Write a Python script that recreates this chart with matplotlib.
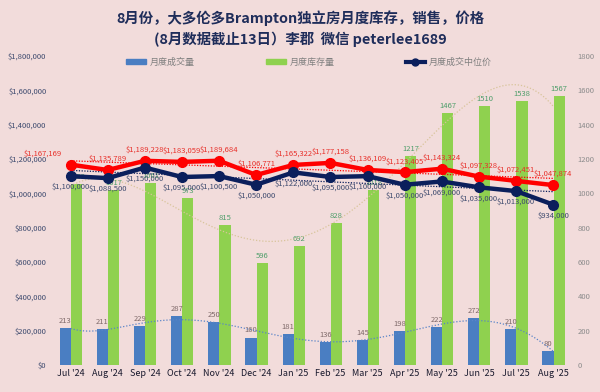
import numpy as np
import matplotlib
matplotlib.use("Agg")
import matplotlib.pyplot as plt
from matplotlib.patches import Patch
from matplotlib.lines import Line2D

plt.rcParams['font.family'] = ['Noto Sans CJK SC', 'DejaVu Sans']

months = ["Jul '24", "Aug '24", "Sep '24", "Oct '24", "Nov '24", "Dec '24", "Jan '25",
          "Feb '25", "Mar '25", "Apr '25", "May '25", "Jun '25", "Jul '25", "Aug '25"]
sales = [213, 211, 229, 287, 250, 160, 181, 136, 145, 198, 222, 272, 210, 80]
inventory = [1053, 1017, 1061, 973, 815, 596, 692, 828, 1018, 1217, 1467, 1510, 1538, 1567]
median_price = [1100000, 1088500, 1150000, 1095000, 1100500, 1050000, 1122000, 1095000,
                1100000, 1050000, 1069000, 1035000, 1013000, 934000]
avg_price = [1167169, 1135789, 1189228, 1183059, 1189684, 1106771, 1165322, 1177158,
             1136109, 1123405, 1143324, 1097328, 1072451, 1047874]

BG = '#F2DCDB'
C_SALES = '#4A7EC2'
C_INV = '#8FD14F'
C_MED = '#0B1F5C'
C_AVG = '#FF0000'

fig = plt.figure(figsize=(6, 3.92), dpi=100, facecolor=BG)
ax = fig.add_axes([0.0867, 0.0689, 0.8663, 0.7883])
ax2 = ax.twinx()
ax.set_zorder(ax2.get_zorder() + 1)
ax.patch.set_visible(False)
ax2.set_facecolor(BG)

x = np.arange(len(months))
w = 0.3
b1 = ax2.bar(x - 0.14, sales, width=w, color=C_SALES, zorder=2)
b2 = ax2.bar(x + 0.16, inventory, width=w, color=C_INV, zorder=2)
for xi, v in zip(x, sales):
    ax2.text(xi - 0.14, v + 18, str(v), ha='center', va='bottom', fontsize=5.5, color='#7F6A6A')
for xi, v in zip(x, inventory):
    ax2.text(xi + 0.16, v + 18, str(v), ha='center', va='bottom', fontsize=5.5, color='#4E9E6A')

# trendlines (fitted from data)
xs = np.linspace(0, 13, 200)
p_s = np.polyfit(x, sales, 6)
ax2.plot(xs, np.polyval(p_s, xs), ls=(0, (1, 1.5)), color='#5A84C8', lw=0.9, zorder=3)
p_i = np.polyfit(x, inventory, 4)
ax2.plot(xs, np.polyval(p_i, xs), ls=(0, (1, 1.5)), color='#D8C49A', lw=0.9, zorder=3)

ax.plot(x, avg_price, color=C_AVG, lw=3.2, marker='o', ms=7, zorder=5)
ax.plot(x, median_price, color=C_MED, lw=3.2, marker='o', ms=7, zorder=6)
p_a = np.polyfit(x, avg_price, 1)
ax.plot(x, np.polyval(p_a, x), ls=(0, (1, 1.2)), color=C_AVG, lw=0.9, zorder=4)
p_m = np.polyfit(x, median_price, 1)
ax.plot(x, np.polyval(p_m, x), ls=(0, (1, 1.2)), color=C_MED, lw=0.9, zorder=4)

for i, v in enumerate(avg_price):
    dx = -0.55 if i == 0 else 0
    ax.annotate(f"${v:,.0f}", (i, v), xytext=(dx * 37, 5), textcoords='offset points',
                ha='center', va='bottom', fontsize=5.5, color='#E8302A', zorder=8)
for i, v in enumerate(median_price):
    ax.annotate(f"${v:,.0f}", (i, v), xytext=(0, -5), textcoords='offset points',
                ha='center', va='top', fontsize=5.5, color='#3D4A6E', zorder=8)

ax.set_xlim(-0.5, 13.5)
ax.set_ylim(0, 1800000)
ax2.set_ylim(0, 1800)
ax.set_yticks(np.arange(0, 1800001, 200000))
ax.set_yticklabels([f"${v:,.0f}" for v in np.arange(0, 1800001, 200000)])
ax2.set_yticks(np.arange(0, 1801, 200))
ax.set_xticks(x)
ax.set_xticklabels(months)
for a in (ax, ax2):
    for s in a.spines.values():
        s.set_visible(False)
ax.tick_params(axis='y', length=0, labelsize=5.5, labelcolor='#3D4A6E', pad=4)
ax2.tick_params(axis='y', length=0, labelsize=5.5, labelcolor='#8C8C8C', pad=4)
ax.tick_params(axis='x', length=0, labelsize=6.5, labelcolor='#1A1A2E', pad=3)
ax2.tick_params(axis='x', length=0)

fig.text(0.5, 0.954, "8月份，大多伦多Brampton独立房月度库存，销售，价格", ha='center', va='center',
         fontsize=10.4, fontweight='bold', color='#1F2D5A')
fig.text(0.5, 0.899, "(8月数据截止13日）李郡  微信 peterlee1689", ha='center', va='center',
         fontsize=10.4, fontweight='bold', color='#1F2D5A')

handles = [Patch(color=C_SALES), Patch(color=C_INV),
           Line2D([], [], color=C_MED, lw=3, marker='o', ms=5)]
labels = ['月度成交量', '月度库存量', '月度成交中位价']
fig.legend(handles, labels, loc='center', bbox_to_anchor=(0.515, 0.842), ncol=3, frameon=False,
           fontsize=6.5, labelcolor='#7F7F7F', columnspacing=7.9, handlelength=2.2, handleheight=0.5,
           handletextpad=0.4)

fig.savefig('out.png', dpi=100, facecolor=BG)
